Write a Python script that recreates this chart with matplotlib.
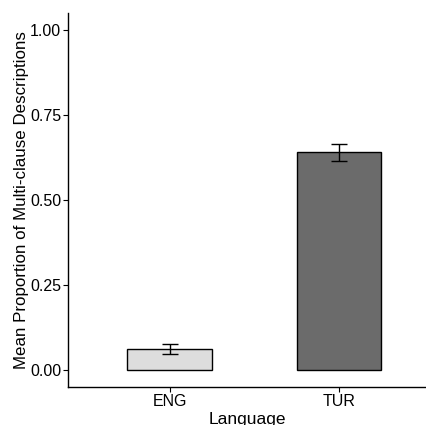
import matplotlib
matplotlib.use("Agg")
from matplotlib import pyplot as plt

languages = ['ENG', 'TUR']
means = [0.062, 0.640]
se = [0.014, 0.025]
colors = ['#dddddd', '#6b6b6b']

plt.rcParams['font.family'] = ['Liberation Sans', 'DejaVu Sans']

fig = plt.figure(figsize=(4.26, 4.25), dpi=100)
ax = fig.add_axes([68/426, (425-387)/425, 1 - 68/426, (387-13)/425])

x = [1, 2]
ax.bar(x, means, width=0.5, color=colors, edgecolor='black', linewidth=1)
ax.errorbar(x, means, yerr=se, fmt='none', ecolor='black', elinewidth=1,
            capsize=6, capthick=1)

ax.set_xlim(0.4, 2.515)
ax.set_ylim(-0.05, 1.05)
ax.set_xticks(x)
ax.set_xticklabels(languages)
ax.set_yticks([0, 0.25, 0.5, 0.75, 1.0])
ax.set_yticklabels(['0.00', '0.25', '0.50', '0.75', '1.00'])
ax.tick_params(labelsize=11.5, colors='black', length=3.5, width=0.8, pad=1.5)
for s in ['top', 'right']:
    ax.spines[s].set_visible(False)
for s in ['left', 'bottom']:
    ax.spines[s].set_linewidth(1)
ax.set_xlabel('Language', fontsize=12.5, labelpad=2)
ax.set_ylabel('Mean Proportion of Multi-clause Descriptions', fontsize=12.2, labelpad=1)

fig.savefig('out.png', dpi=100)
